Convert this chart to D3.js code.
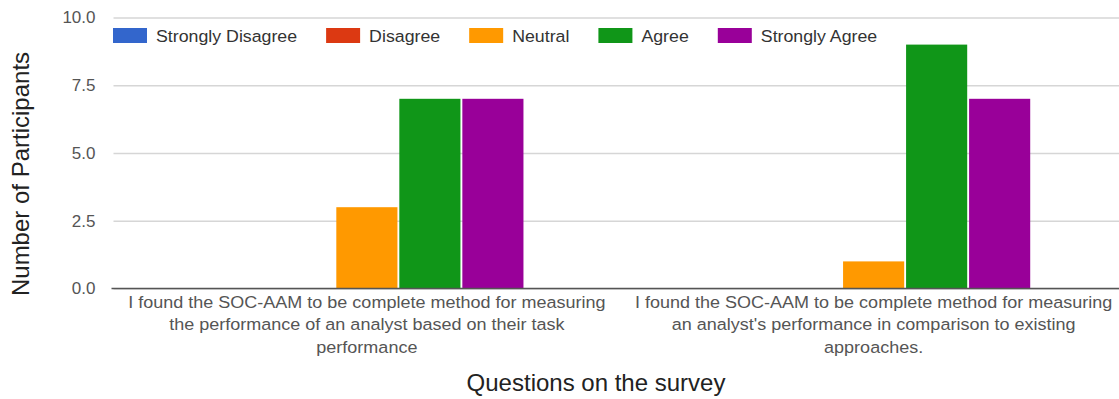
<!DOCTYPE html>
<html>
<head>
<meta charset="utf-8">
<script src="https://cdn.jsdelivr.net/npm/d3@7"></script>
<style>
  html, body { margin: 0; padding: 0; background: #fff; }
  svg { display: block; font-family: "Liberation Sans", Arial, sans-serif; }
</style>
</head>
<body>
<svg id="chart" width="1119" height="399"></svg>
<script>
// Survey responses per question
const questions = [
  ["I found the SOC-AAM to be complete method for measuring", "the performance of an analyst based on their task", "performance"],
  ["I found the SOC-AAM to be complete method for measuring", "an analyst's performance in comparison to existing", "approaches."]
];
const seriesNames = ["Strongly Disagree", "Disagree", "Neutral", "Agree", "Strongly Agree"];
const seriesColors = ["#3366cc", "#dc3912", "#ff9900", "#109618", "#990099"];
const stronglyDisagree = [0, 0];
const disagree = [0, 0];
const neutral = [3, 1];
const agree = [7, 9];
const stronglyAgree = [7, 7];
const yTicks = [0, 2.5, 5, 7.5, 10];

const seriesValues = [stronglyDisagree, disagree, neutral, agree, stronglyAgree];

const svg = d3.select("#chart");
const plot = { left: 113.5, right: 1127, top: 17.5, bottom: 288.5 };

const y = d3.scaleLinear().domain([0, 10]).range([plot.bottom, plot.top]);
const x0 = d3.scaleBand().domain(d3.range(questions.length)).range([plot.left, plot.right]).padding(0);
const groupW = x0.bandwidth() * 0.618;
const x1 = d3.scaleBand().domain(seriesNames)
  .range([(x0.bandwidth() - groupW) / 2, (x0.bandwidth() + groupW) / 2])
  .paddingInner(0.03).paddingOuter(0);
const color = d3.scaleOrdinal().domain(seriesNames).range(seriesColors);

// Gridlines and tick labels
const yAxis = svg.append("g")
  .attr("transform", `translate(${plot.left},0)`)
  .call(d3.axisLeft(y).tickValues(yTicks).tickFormat(d3.format(".1f"))
    .tickSize(-(plot.right - plot.left)).tickPadding(18));
yAxis.select(".domain").remove();
yAxis.selectAll(".tick line").attr("stroke", "#d6d6d6").attr("stroke-width", 1.3);
yAxis.selectAll(".tick text").attr("fill", "#555").style("font-size", "17px");

// Bars
const groups = svg.append("g").selectAll("g")
  .data(questions.map((q, i) => i))
  .join("g")
  .attr("transform", i => `translate(${x0(i)},0)`);

groups.selectAll("rect")
  .data(i => seriesNames.map((name, k) => ({ name, value: seriesValues[k][i] })).filter(d => d.value > 0))
  .join("rect")
  .attr("x", d => x1(d.name))
  .attr("width", x1.bandwidth())
  .attr("y", d => y(d.value))
  .attr("height", d => y(0) - y(d.value))
  .attr("fill", d => color(d.name));

// Baseline
svg.append("line")
  .attr("x1", plot.left - 2).attr("x2", plot.right)
  .attr("y1", y(0)).attr("y2", y(0))
  .attr("stroke", "#555").attr("stroke-width", 1.5);

// Category labels (slightly widened type)
const catLabels = svg.append("g").selectAll("g")
  .data(questions)
  .join("g")
  .attr("transform", (q, i) => `translate(${x0(i) + x0.bandwidth() / 2},${plot.bottom + 19}) scale(1.06,1)`)
  .append("text")
  .attr("text-anchor", "middle")
  .attr("fill", "#555")
  .style("font-size", "17px");
catLabels.selectAll("tspan")
  .data(q => q)
  .join("tspan")
  .attr("x", 0)
  .attr("dy", (d, i) => i === 0 ? 0 : 23)
  .text(d => d);

// Axis titles
svg.append("text")
  .attr("transform", "translate(29,174) rotate(-90)")
  .attr("text-anchor", "middle")
  .attr("fill", "#222")
  .style("font-size", "24px")
  .text("Number of Participants");

svg.append("text")
  .attr("x", 596).attr("y", 391)
  .attr("text-anchor", "middle")
  .attr("fill", "#222")
  .style("font-size", "24px")
  .text("Questions on the survey");

// Legend
const legend = svg.append("g").attr("transform", "translate(113,28)");
let lx = 0;
seriesNames.forEach((name, k) => {
  const item = legend.append("g").attr("transform", `translate(${lx},0)`);
  item.append("rect").attr("width", 34).attr("height", 15).attr("fill", seriesColors[k]);
  const t = item.append("text")
    .attr("transform", "translate(43,13.5) scale(1.045,1)")
    .attr("fill", "#333")
    .style("font-size", "17px")
    .text(name);
  lx += 43 + t.node().getComputedTextLength() * 1.045 + 29;
});
</script>
</body>
</html>
